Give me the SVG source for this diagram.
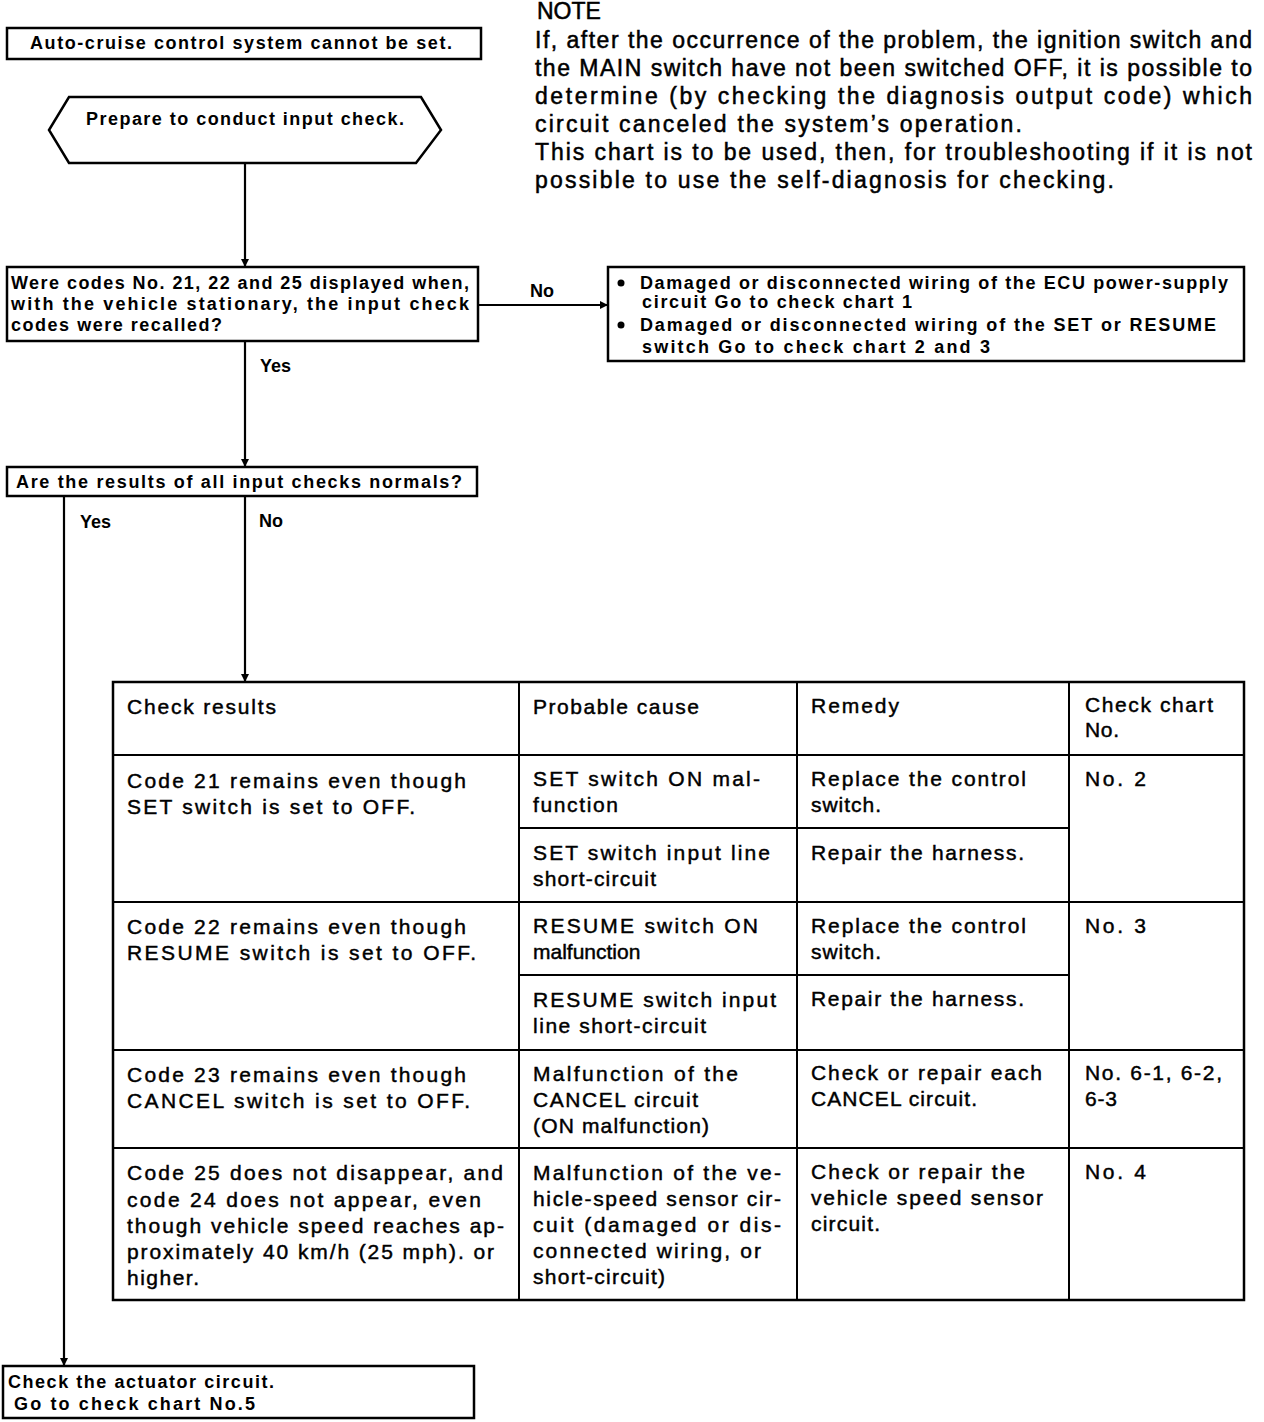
<svg xmlns="http://www.w3.org/2000/svg" width="1264" height="1422" viewBox="0 0 1264 1422">
<style>
.box{fill:#fff;stroke:#000;stroke-width:2.5}
.ln{fill:none;stroke:#000;stroke-width:2.2}
.tl{fill:none;stroke:#000;stroke-width:2}
.b{font-family:"Liberation Sans",Arial,sans-serif;font-size:18px;font-weight:bold;fill:#000}
.t{font-family:"Liberation Sans",Arial,sans-serif;font-size:21px;fill:#000;stroke:#000;stroke-width:0.45}
.n{font-family:"Liberation Sans",Arial,sans-serif;font-size:23px;fill:#000;stroke:#000;stroke-width:0.5}
.lb{font-family:"Liberation Sans",Arial,sans-serif;font-size:18px;font-weight:bold;fill:#000}
</style>
<defs>
<marker id="ah" markerWidth="8" markerHeight="10" refX="8" refY="5" orient="auto" markerUnits="userSpaceOnUse">
<path d="M0,1 L8,5 L0,9 Z" fill="#000"/>
</marker>
</defs>
<rect width="1264" height="1422" fill="#fff"/>

<g id="note">
<text class="n" x="537" y="19">NOTE</text>
<text class="n" x="535" y="48" textLength="717">If, after the occurrence of the problem, the ignition switch and</text>
<text class="n" x="535" y="76" textLength="717">the MAIN switch have not been switched OFF, it is possible to</text>
<text class="n" x="535" y="104" textLength="717">determine (by checking the diagnosis output code) which</text>
<text class="n" x="535" y="132" textLength="487">circuit canceled the system’s operation.</text>
<text class="n" x="535" y="160" textLength="717">This chart is to be used, then, for troubleshooting if it is not</text>
<text class="n" x="535" y="188" textLength="579">possible to use the self-diagnosis for checking.</text>
</g>

<g id="connectors">
<line class="ln" x1="245" y1="163" x2="245" y2="267" marker-end="url(#ah)"/>
<line class="ln" x1="478" y1="305" x2="608" y2="305" marker-end="url(#ah)"/>
<line class="ln" x1="245" y1="341" x2="245" y2="467" marker-end="url(#ah)"/>
<line class="ln" x1="245" y1="496" x2="245" y2="682" marker-end="url(#ah)"/>
<line class="ln" x1="64" y1="496" x2="64" y2="1366" marker-end="url(#ah)"/>
<text class="lb" x="530" y="297">No</text>
<text class="lb" x="260" y="372">Yes</text>
<text class="lb" x="80" y="528">Yes</text>
<text class="lb" x="259" y="527">No</text>
</g>

<g id="start">
<rect class="box" x="7" y="28" width="474" height="31"/>
<text class="b" x="30" y="49" textLength="422">Auto-cruise control system cannot be set.</text>
</g>

<g id="prepare">
<polygon class="box" points="69,97 421,97 441,130 416,163 69,163 49,130"/>
<text class="b" x="86" y="125" textLength="318">Prepare to conduct input check.</text>
</g>

<g id="q1">
<rect class="box" x="7" y="267" width="471" height="74"/>
<text class="b" x="11" y="289" textLength="458">Were codes No. 21, 22 and 25 displayed when,</text>
<text class="b" x="11" y="310" textLength="458">with the vehicle stationary, the input check</text>
<text class="b" x="11" y="331" textLength="211">codes were recalled?</text>
</g>

<g id="no1">
<rect class="box" x="608" y="267" width="636" height="94"/>
<circle cx="621" cy="283" r="3.5" fill="#000"/>
<text class="b" x="640" y="289" textLength="588">Damaged or disconnected wiring of the ECU power-supply</text>
<text class="b" x="642" y="308" textLength="270">circuit  Go to check chart 1</text>
<circle cx="621" cy="325" r="3.5" fill="#000"/>
<text class="b" x="640" y="331" textLength="576">Damaged or disconnected wiring of the SET or RESUME</text>
<text class="b" x="642" y="353" textLength="348">switch  Go to check chart 2 and 3</text>
</g>

<g id="q2">
<rect class="box" x="7" y="467" width="470" height="29"/>
<text class="b" x="16" y="488" textLength="446">Are the results of all input checks normals?</text>
</g>

<g id="table">
<rect class="box" x="113" y="682" width="1131" height="618"/>
<line class="tl" x1="519" y1="682" x2="519" y2="1300"/>
<line class="tl" x1="797" y1="682" x2="797" y2="1300"/>
<line class="tl" x1="1069" y1="682" x2="1069" y2="1300"/>
<line class="tl" x1="113" y1="755" x2="1244" y2="755"/>
<line class="tl" x1="519" y1="828" x2="1069" y2="828"/>
<line class="tl" x1="113" y1="902" x2="1244" y2="902"/>
<line class="tl" x1="519" y1="975" x2="1069" y2="975"/>
<line class="tl" x1="113" y1="1050" x2="1244" y2="1050"/>
<line class="tl" x1="113" y1="1148" x2="1244" y2="1148"/>

<text class="t" x="127" y="714" textLength="149">Check results</text>
<text class="t" x="533" y="714" textLength="166">Probable cause</text>
<text class="t" x="811" y="713" textLength="88">Remedy</text>
<text class="t" x="1085" y="712" textLength="128">Check chart</text>
<text class="t" x="1085" y="737" textLength="34">No.</text>

<text class="t" x="127" y="788" textLength="339">Code 21 remains even though</text>
<text class="t" x="127" y="814" textLength="288">SET switch is set to OFF.</text>
<text class="t" x="533" y="786" textLength="227">SET switch ON mal-</text>
<text class="t" x="533" y="812" textLength="85">function</text>
<text class="t" x="811" y="786" textLength="215">Replace the control</text>
<text class="t" x="811" y="812" textLength="70">switch.</text>
<text class="t" x="1085" y="786" textLength="61">No. 2</text>
<text class="t" x="533" y="860" textLength="237">SET switch input line</text>
<text class="t" x="533" y="886" textLength="123">short-circuit</text>
<text class="t" x="811" y="860" textLength="213">Repair the harness.</text>

<text class="t" x="127" y="934" textLength="339">Code 22 remains even though</text>
<text class="t" x="127" y="960" textLength="349">RESUME switch is set to OFF.</text>
<text class="t" x="533" y="933" textLength="225">RESUME switch ON</text>
<text class="t" x="533" y="959">malfunction</text>
<text class="t" x="811" y="933" textLength="215">Replace the control</text>
<text class="t" x="811" y="959" textLength="70">switch.</text>
<text class="t" x="1085" y="933" textLength="61">No. 3</text>
<text class="t" x="533" y="1007" textLength="243">RESUME switch input</text>
<text class="t" x="533" y="1033" textLength="173">line short-circuit</text>
<text class="t" x="811" y="1006" textLength="213">Repair the harness.</text>

<text class="t" x="127" y="1082" textLength="339">Code 23 remains even though</text>
<text class="t" x="127" y="1108" textLength="343">CANCEL switch is set to OFF.</text>
<text class="t" x="533" y="1081" textLength="205">Malfunction of the</text>
<text class="t" x="533" y="1107" textLength="165">CANCEL circuit</text>
<text class="t" x="533" y="1133" textLength="176">(ON malfunction)</text>
<text class="t" x="811" y="1080" textLength="231">Check or repair each</text>
<text class="t" x="811" y="1106" textLength="166">CANCEL circuit.</text>
<text class="t" x="1085" y="1080" textLength="137">No. 6-1, 6-2,</text>
<text class="t" x="1085" y="1106" textLength="32">6-3</text>

<text class="t" x="127" y="1180" textLength="376">Code 25 does not disappear, and</text>
<text class="t" x="127" y="1207" textLength="354">code 24 does not appear, even</text>
<text class="t" x="127" y="1233" textLength="377">though vehicle speed reaches ap-</text>
<text class="t" x="127" y="1259" textLength="367">proximately 40 km/h (25 mph). or</text>
<text class="t" x="127" y="1285" textLength="72">higher.</text>
<text class="t" x="533" y="1180" textLength="248">Malfunction of the ve-</text>
<text class="t" x="533" y="1206" textLength="248">hicle-speed sensor cir-</text>
<text class="t" x="533" y="1232" textLength="248">cuit (damaged or dis-</text>
<text class="t" x="533" y="1258" textLength="228">connected wiring, or</text>
<text class="t" x="533" y="1284" textLength="132">short-circuit)</text>
<text class="t" x="811" y="1179" textLength="214">Check or repair the</text>
<text class="t" x="811" y="1205" textLength="232">vehicle speed sensor</text>
<text class="t" x="811" y="1231" textLength="69">circuit.</text>
<text class="t" x="1085" y="1179" textLength="61">No. 4</text>
</g>

<g id="actuator">
<rect class="box" x="3" y="1366" width="471" height="52"/>
<text class="b" x="8" y="1388" textLength="266">Check the actuator circuit.</text>
<text class="b" x="14" y="1410" textLength="241">Go to check chart No.5</text>
</g>
</svg>
